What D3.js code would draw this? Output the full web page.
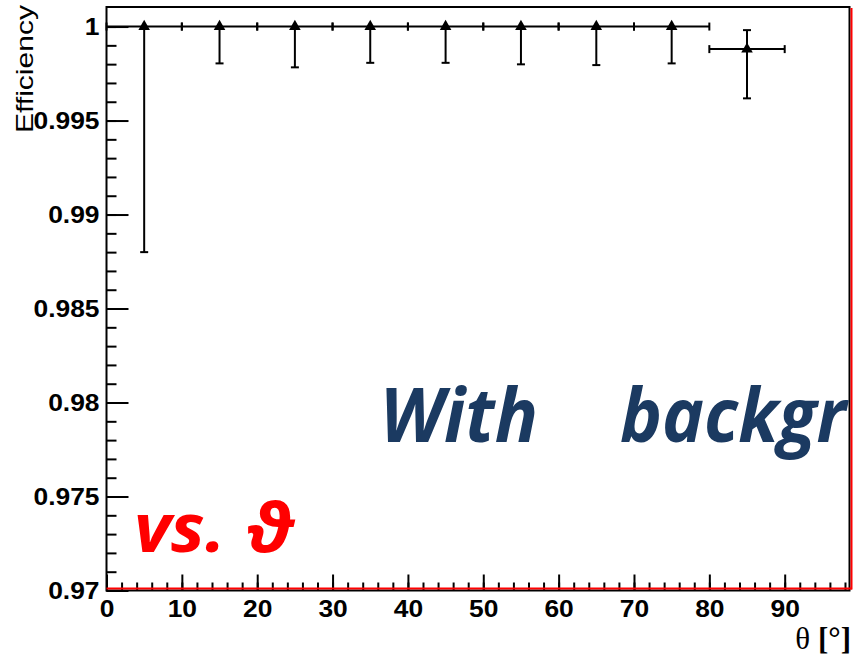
<!DOCTYPE html>
<html>
<head>
<meta charset="utf-8">
<script src="https://cdn.jsdelivr.net/npm/d3@7"></script>
<style>
  html, body { margin: 0; padding: 0; background: #fff; }
  svg { display: block; }
</style>
</head>
<body>
<script>
// Efficiency vs. polar angle, 10-degree bins
const thetaBins      = [5, 15, 25, 35, 45, 55, 65, 75, 85];
const thetaHalfWidth = [5, 5, 5, 5, 5, 5, 5, 5, 5];
const efficiency     = [1, 1, 1, 1, 1, 1, 1, 1, 0.9988];
const errLow         = [0.0120, 0.00196, 0.00217, 0.00193, 0.00193, 0.00201, 0.00205, 0.00196, 0.00262];
const errHigh        = [0, 0, 0, 0, 0, 0, 0, 0, 0.00101];

const yMajorTicks = [0.97, 0.975, 0.98, 0.985, 0.99, 0.995, 1];
const yTickLabels = ["0.97", "0.975", "0.98", "0.985", "0.99", "0.995", "1"];
const xMajorTicks = [0, 10, 20, 30, 40, 50, 60, 70, 80, 90];
const xTickLabels = ["0", "10", "20", "30", "40", "50", "60", "70", "80", "90"];

const yTitle = "Efficiency";
const xTitle = "θ";
const xUnit  = "[°]";
const overlayWith = "With";
const overlayBackground = "backgr";
const overlayVs = "vs. ϑ";

const W = 854, H = 657;
const plot = { left: 106.5, right: 849.5, top: 7, bottom: 590.5 };

const svg = d3.select("body").append("svg")
  .attr("width", W).attr("height", H)
  .attr("viewBox", `0 0 ${W} ${H}`);

svg.append("rect").attr("width", W).attr("height", H).attr("fill", "#fff");

const x = d3.scaleLinear().domain([0, 98.6]).range([plot.left, plot.right]);
const y = d3.scaleLinear().domain([0.97, 1.00104]).range([plot.bottom, plot.top]);

const labelFont = "'Liberation Sans', Arial, Helvetica, sans-serif";
const stretch = 1.1;

// frame
svg.append("rect")
  .attr("x", plot.left).attr("y", plot.top)
  .attr("width", plot.right - plot.left).attr("height", plot.bottom - plot.top)
  .attr("fill", "none").attr("stroke", "#000").attr("stroke-width", 2);

// y axis: minor ticks
const yMinor = d3.range(0, 31).map(i => 0.97 + i * 0.001);
svg.append("g")
  .attr("transform", `translate(${plot.left},0)`)
  .call(d3.axisLeft(y).tickValues(yMinor).tickSizeInner(-10).tickSizeOuter(0).tickFormat(""))
  .call(g => g.select(".domain").remove())
  .call(g => g.selectAll("line").attr("stroke", "#000").attr("stroke-width", 2));

// y axis: major ticks and labels
svg.append("g")
  .attr("transform", `translate(${plot.left},0)`)
  .call(d3.axisLeft(y).tickValues(yMajorTicks).tickSizeInner(-22).tickSizeOuter(0).tickPadding(7)
    .tickFormat((d, i) => yTickLabels[i]))
  .call(g => g.select(".domain").remove())
  .call(g => g.selectAll("line").attr("stroke", "#000").attr("stroke-width", 2))
  .call(g => g.selectAll("text")
    .attr("font-family", labelFont).attr("font-weight", "bold").attr("font-size", 24)
    .attr("fill", "#000")
    .attr("x", -7 / stretch)
    .attr("transform", `scale(${stretch},1)`));

// x axis: minor ticks
const xMinor = d3.range(0, 50).map(i => i * 2);
svg.append("g")
  .attr("transform", `translate(0,${plot.bottom})`)
  .call(d3.axisBottom(x).tickValues(xMinor).tickSizeInner(-8).tickSizeOuter(0).tickFormat(""))
  .call(g => g.select(".domain").remove())
  .call(g => g.selectAll("line").attr("stroke", "#000").attr("stroke-width", 2));

// x axis: major ticks and labels
svg.append("g")
  .attr("transform", `translate(0,${plot.bottom})`)
  .call(d3.axisBottom(x).tickValues(xMajorTicks).tickSizeInner(-16).tickSizeOuter(0).tickPadding(9)
    .tickFormat((d, i) => xTickLabels[i]))
  .call(g => g.select(".domain").remove())
  .call(g => g.selectAll("line").attr("stroke", "#000").attr("stroke-width", 2))
  .call(g => g.selectAll("text")
    .attr("font-family", labelFont).attr("font-weight", "bold").attr("font-size", 24)
    .attr("fill", "#000")
    .attr("transform", `scale(${stretch},1)`));

// highlighted pad edges
svg.append("line")
  .attr("x1", plot.left).attr("x2", plot.right + 2.5)
  .attr("y1", plot.bottom - 2).attr("y2", plot.bottom - 2)
  .attr("stroke", "#ff0000").attr("stroke-width", 2);
svg.append("line")
  .attr("x1", plot.right + 2).attr("x2", plot.right + 2)
  .attr("y1", plot.top + 1).attr("y2", plot.bottom - 1)
  .attr("stroke", "#ff0000").attr("stroke-width", 2);

// data with error bars
const data = thetaBins.map((t, i) => ({
  t, hw: thetaHalfWidth[i], v: efficiency[i], lo: errLow[i], hi: errHigh[i]
}));

const marks = svg.append("g").attr("stroke", "#000").attr("stroke-width", 2).attr("fill", "none");
const cap = 4;

data.forEach(d => {
  const cx = x(d.t), cy = y(d.v);
  const xl = x(d.t - d.hw), xr = x(d.t + d.hw);
  const yl = y(d.v - d.lo), yh = y(d.v + d.hi);
  // horizontal bin width
  marks.append("line").attr("x1", xl).attr("x2", xr).attr("y1", cy).attr("y2", cy);
  marks.append("line").attr("x1", xl).attr("x2", xl).attr("y1", cy - cap).attr("y2", cy + cap);
  marks.append("line").attr("x1", xr).attr("x2", xr).attr("y1", cy - cap).attr("y2", cy + cap);
  // vertical error
  marks.append("line").attr("x1", cx).attr("x2", cx).attr("y1", yh).attr("y2", yl);
  marks.append("line").attr("x1", cx - cap).attr("x2", cx + cap).attr("y1", yl).attr("y2", yl);
  if (d.hi > 0) {
    marks.append("line").attr("x1", cx - cap).attr("x2", cx + cap).attr("y1", yh).attr("y2", yh);
  }
});

svg.append("g").selectAll("path")
  .data(data)
  .join("path")
  .attr("d", d3.symbol(d3.symbolTriangle, 58))
  .attr("transform", d => `translate(${x(d.t)},${y(d.v)})`)
  .attr("fill", "#000");

// axis titles
svg.append("text")
  .attr("transform", "translate(33,5) rotate(-90)")
  .attr("text-anchor", "end")
  .attr("font-family", labelFont).attr("font-size", 24)
  .attr("textLength", 128).attr("lengthAdjust", "spacingAndGlyphs")
  .attr("fill", "#000")
  .text(yTitle);

const xt = svg.append("text")
  .attr("x", 851).attr("y", 649)
  .attr("text-anchor", "end")
  .attr("font-family", "'Liberation Serif', 'Times New Roman', serif")
  .attr("font-size", 31).attr("fill", "#000");
xt.append("tspan").text(xTitle + " ");
xt.append("tspan").attr("font-weight", "bold").text(xUnit);

// slide annotations
const annoFont = "'Open Sans', 'Noto Sans', 'DejaVu Sans', sans-serif";
svg.append("clipPath").attr("id", "padClip")
  .append("rect").attr("x", 0).attr("y", 0).attr("width", plot.right + 1).attr("height", H);

const anno = svg.append("g").attr("clip-path", "url(#padClip)");
anno.append("text")
  .attr("x", 380).attr("y", 442)
  .attr("font-family", annoFont).attr("font-weight", "bold").attr("font-style", "italic")
  .attr("font-size", 76).attr("fill", "#1b3a61")
  .attr("textLength", 158).attr("lengthAdjust", "spacingAndGlyphs")
  .text(overlayWith);
anno.append("text")
  .attr("x", 620).attr("y", 442)
  .attr("font-family", annoFont).attr("font-weight", "bold").attr("font-style", "italic")
  .attr("font-size", 76).attr("fill", "#1b3a61")
  .attr("transform", "translate(620,0) scale(0.93,1) translate(-620,0)")
  .text(overlayBackground);

svg.append("text")
  .attr("x", 134).attr("y", 552)
  .attr("font-family", annoFont).attr("font-weight", "bold").attr("font-style", "italic")
  .attr("font-size", 68).attr("fill", "#ff0000")
  .attr("textLength", 160).attr("lengthAdjust", "spacingAndGlyphs")
  .text(overlayVs);
</script>
</body>
</html>
